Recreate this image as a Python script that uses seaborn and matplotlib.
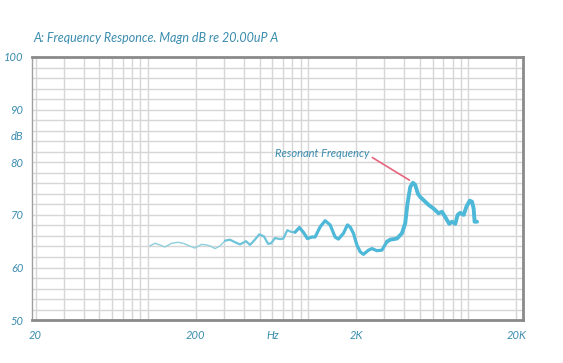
import numpy as np
import pandas as pd
import matplotlib
matplotlib.use("Agg")
import matplotlib.pyplot as plt
from matplotlib.ticker import LogLocator, NullFormatter, FixedLocator
import seaborn as sns

# --- dane ---
freq_hz = [103, 111, 119, 128, 141, 155, 167, 179, 197, 217, 233, 245, 263, 283,
           304, 326, 351, 377, 411, 435, 467, 497, 532, 564, 589, 623, 670, 703,
           744, 781, 831, 885, 937, 993, 1058, 1109, 1191, 1280, 1376, 1478, 1550,
           1666, 1765, 1835, 1924, 2020, 2118, 2222, 2388, 2507, 2692, 2896, 3111,
           3263, 3592, 3860, 4048, 4185, 4350, 4520, 4673, 4859, 5024, 5272, 5665,
           6086, 6536, 6866, 7196, 7620, 7920, 8312, 8596, 8934, 9376, 9740, 10220,
           10570, 10820, 10970, 11360]
magn_db = [64.1, 64.6, 64.3, 63.9, 64.6, 64.8, 64.6, 64.2, 63.7, 64.4, 64.3, 64.1,
           63.6, 64.1, 65.1, 65.3, 64.8, 64.4, 65.0, 64.3, 65.3, 66.3, 65.9, 64.5,
           64.6, 65.6, 65.4, 65.5, 67.1, 66.8, 66.7, 67.6, 66.7, 65.5, 65.8, 65.8,
           67.7, 68.9, 68.1, 65.8, 65.4, 66.5, 68.1, 67.7, 66.5, 64.3, 63.0, 62.5,
           63.3, 63.6, 63.2, 63.3, 64.9, 65.3, 65.5, 66.5, 68.4, 72.2, 75.3, 76.1,
           75.7, 74.0, 73.4, 72.8, 71.9, 71.2, 70.3, 70.6, 69.6, 68.3, 68.7, 68.3,
           70.0, 70.4, 70.0, 71.5, 72.7, 72.5, 71.2, 68.7, 68.7]

x_ticks = [20, 200, 600, 2000, 20000]
x_tick_labels = ['20', '200', 'Hz', '2K', '20K']
y_ticks = [50, 60, 70, 80, 90, 100]

df = pd.DataFrame({'freq': freq_hz, 'db': magn_db})

TEXT = '#3a8cae'
LINE = '#4db8d8'
FONT = ['Lato', 'DejaVu Sans']

sns.set_theme(style="white")
plt.rcParams['font.family'] = FONT

fig = plt.figure(figsize=(5.63, 3.63), dpi=100)
ax = fig.add_axes([0.057, 0.118, 0.872, 0.725])

# linia rysowana kawalkami - coraz grubsza w prawo (jak pisak)
granice = [0, 14, 30, 52, len(df)]
grubosci = [1.0, 1.6, 2.3, 2.8]
kolory = ['#8fcfdc', '#6cc3da', LINE, LINE]
for i in range(len(granice) - 1):
    kawalek = df.iloc[granice[i]:min(granice[i + 1] + 1, len(df))]
    sns.lineplot(data=kawalek, x='freq', y='db', ax=ax, color=kolory[i],
                 linewidth=grubosci[i], estimator=None, sort=False, zorder=3)

ax.set_xscale('log')
ax.set_xlim(19, 22000)
ax.set_ylim(50, 100)

# siatka: co 2 dB i logarytmiczne podzialki
ax.xaxis.set_major_locator(FixedLocator(x_ticks))
ax.set_xticklabels(x_tick_labels)
ax.xaxis.set_minor_locator(LogLocator(base=10, subs=np.arange(1, 10)))
ax.xaxis.set_minor_formatter(NullFormatter())
ax.set_yticks(y_ticks)
ax.set_yticks(np.arange(50, 101, 2), minor=True)
ax.grid(True, which='both', color='#d6d6d6', linewidth=1.0)
ax.tick_params(which='both', length=0)
ax.tick_params(axis='x', labelsize=8, labelcolor=TEXT, pad=7)
ax.tick_params(axis='y', labelsize=8, labelcolor=TEXT, pad=6)
for lab in ax.get_xticklabels() + ax.get_yticklabels():
    lab.set_fontstyle('italic')
ax.set_xlabel('')
ax.set_ylabel('')

# ramka
ax.spines['left'].set_color('#a0a0a0')
ax.spines['left'].set_linewidth(1.0)
for s in ['top', 'bottom', 'right']:
    ax.spines[s].set_color('#8a8a8a')
    ax.spines[s].set_linewidth(2.0)

# jednostka osi Y wstawiona miedzy 90 i 80
ax.text(-0.03, 84.8, 'dB', transform=ax.get_yaxis_transform(), color=TEXT,
        fontsize=8, style='italic', ha='center', va='center')

ax.annotate('Resonant Frequency', xy=(4300, 76.6), xytext=(620, 81.7),
            color=TEXT, fontsize=8, style='italic', ha='left', va='center',
            arrowprops=dict(arrowstyle='-', color='#e8647e', lw=1.2,
                            shrinkA=0, shrinkB=0, relpos=(1.0, 0.3)))

fig.text(33 / 563, 1 - 38 / 363, 'A: Frequency Responce. Magn dB re 20.00uP A',
         color=TEXT, fontsize=9, style='italic', ha='left', va='center')

plt.savefig('out.png', dpi=100, facecolor='white')
plt.close()
